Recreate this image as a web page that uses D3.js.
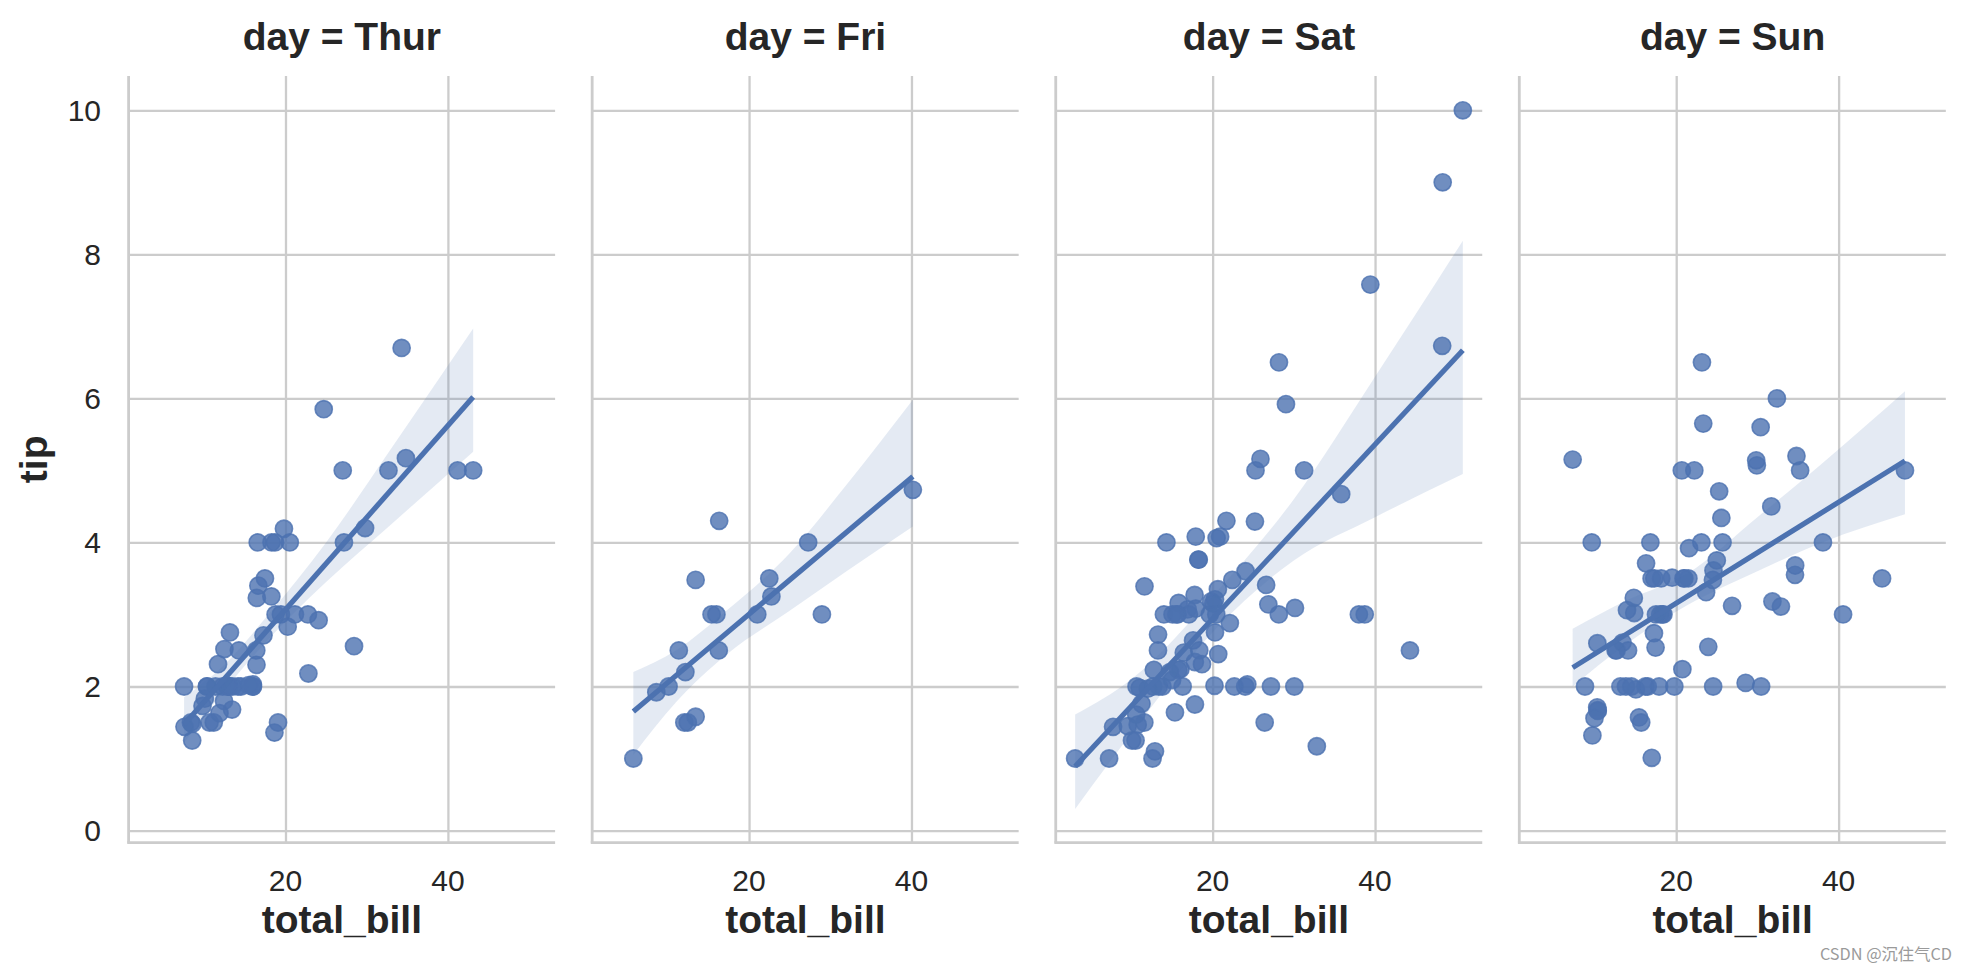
<!DOCTYPE html>
<html>
<head>
<meta charset="utf-8">
<script src="https://cdn.jsdelivr.net/npm/d3@7"></script>
<style>
html,body{margin:0;padding:0;background:#fff;}
svg{display:block;}
</style>
</head>
<body>
<svg id="chart" width="1966" height="964"></svg>
<script>
// ---- data (seaborn "tips", split by day) ----
const days = ["Thur", "Fri", "Sat", "Sun"];
const thurBill = [27.20,22.76,17.29,19.44,16.66,10.07,32.68,15.98,34.83,13.03,18.28,24.71,21.16,10.65,12.43,24.08,11.69,13.42,14.26,15.95,12.48,29.80,8.52,14.52,11.38,22.82,19.08,20.27,11.17,12.26,18.26,8.51,10.33,14.15,16.00,13.16,17.47,34.30,41.19,27.05,16.43,8.35,18.64,11.87,9.78,7.51,19.81,28.44,15.48,16.58,7.56,10.34,43.11,13.00,13.51,18.71,12.74,13.00,16.40,20.53,16.47,18.78];
const thurTip  = [4.00,3.00,2.71,3.00,3.40,1.83,5.00,2.03,5.17,2.00,4.00,5.85,3.00,1.50,1.80,2.92,2.31,1.68,2.50,2.00,2.52,4.20,1.48,2.00,2.00,2.18,1.50,2.83,1.50,2.00,3.25,1.25,2.00,2.00,2.00,2.75,3.50,6.70,5.00,5.00,2.30,1.50,1.36,1.63,1.73,2.00,4.19,2.56,2.02,4.00,1.44,2.00,5.00,2.00,2.00,4.00,2.01,2.00,2.50,4.00,3.23,3.00];
const friBill = [28.97,22.49,5.75,16.32,22.75,40.17,27.28,12.03,21.01,12.46,11.35,15.38,12.16,13.42,8.58,15.98,13.42,16.27,10.09];
const friTip  = [3.00,3.50,1.00,4.30,3.25,4.73,4.00,1.50,3.00,1.50,2.50,3.00,2.20,3.48,1.92,3.00,1.58,2.50,2.00];
const satBill = [20.65,17.92,20.29,15.77,39.42,19.82,17.81,13.37,12.69,21.70,19.65,9.55,18.35,15.06,20.69,17.78,24.06,16.31,16.93,18.69,31.27,16.04,
  38.01,26.41,11.24,48.27,20.29,13.81,11.02,18.29,17.59,20.08,16.45,3.07,20.23,15.01,12.02,17.07,26.86,25.28,14.73,10.51,17.92,
  44.30,22.42,20.92,15.36,20.49,25.21,18.24,14.31,14.00,7.25,10.59,10.63,50.81,15.81,
  26.59,38.73,24.27,12.76,30.06,25.89,48.33,13.27,28.17,12.90,28.15,11.59,7.74,30.14,
  20.45,13.28,22.12,24.01,15.69,11.61,10.77,15.53,10.07,12.60,32.83,35.83,29.03,27.18,22.67,17.82];
const satTip  = [3.35,4.08,2.75,2.23,7.58,3.18,2.34,2.00,2.00,4.30,3.00,1.45,2.50,3.00,2.45,3.27,3.60,2.00,3.07,2.31,5.00,2.24,
  3.00,1.50,1.76,6.73,3.21,2.00,1.98,3.76,2.64,3.15,2.47,1.00,2.01,2.09,1.97,3.00,3.14,5.00,2.20,1.25,3.08,
  2.50,3.48,4.08,1.64,4.06,4.29,3.76,4.00,3.00,1.00,1.61,2.00,10.00,3.16,
  3.41,3.00,2.03,2.23,2.00,5.16,9.00,2.50,6.50,1.10,3.00,1.50,1.44,3.09,
  3.00,2.72,2.88,2.00,3.00,3.39,1.47,3.00,1.25,1.00,1.17,4.67,5.92,2.00,2.00,1.75];
const sunBill = [16.99,10.34,21.01,23.68,24.59,25.29,8.77,26.88,15.04,14.78,10.27,35.26,15.42,18.43,14.83,21.58,10.33,16.29,16.97,
  17.46,13.94,9.68,30.40,18.29,22.23,32.40,28.55,18.04,12.54,10.29,34.81,9.94,25.56,19.49,
  38.07,23.95,25.71,17.31,29.93,
  14.07,13.13,17.26,24.55,19.77,29.85,48.17,25.00,13.39,16.49,21.50,12.66,16.21,13.81,17.51,24.52,20.76,31.71,
  7.25,31.85,16.82,32.90,17.89,14.48,9.60,34.63,34.65,23.33,45.35,23.17,40.55,20.69,20.90,30.46,18.15,23.10,15.69];
const sunTip  = [1.01,1.66,3.50,3.31,3.61,4.71,2.00,3.12,1.96,3.23,1.71,5.00,1.57,3.00,3.02,3.92,1.67,3.71,3.50,
  2.54,3.06,1.32,5.60,3.00,5.00,6.00,2.05,3.00,2.50,2.60,5.20,1.56,4.34,3.51,
  4.00,2.55,4.00,3.50,5.07,
  2.50,2.00,2.74,2.00,2.00,5.14,5.00,3.75,2.61,2.00,3.50,2.50,2.00,2.00,3.00,3.48,2.24,4.50,
  5.15,3.18,4.00,3.11,2.00,2.00,4.00,3.55,3.68,5.65,3.50,6.50,3.00,5.00,3.50,2.00,3.50,4.00,1.50];

// 95% confidence band edges at a few x positions
const thurBandX  = [7.51, 12, 17.7, 25, 33, 43.11];
const thurBandLo = [1.22, 1.88, 2.63, 3.45, 4.25, 5.26];
const thurBandHi = [1.85, 2.25, 2.97, 4.00, 5.30, 6.97];
const friBandX   = [5.75, 11, 17.2, 25, 32, 40.17];
const friBandLo  = [1.05, 1.78, 2.44, 3.05, 3.60, 4.22];
const friBandHi  = [2.20, 2.50, 3.05, 3.85, 4.80, 5.98];
const satBandX   = [3.07, 10, 20.4, 30, 40, 50.81];
const satBandLo  = [0.30, 1.35, 2.80, 3.75, 4.35, 4.95];
const satBandHi  = [1.61, 2.10, 3.30, 4.60, 6.30, 8.19];
const sunBandX   = [7.25, 14, 21.4, 30, 38, 48.17];
const sunBandLo  = [2.00, 2.60, 3.13, 3.60, 4.00, 4.39];
const sunBandHi  = [2.80, 3.20, 3.57, 4.35, 5.10, 6.10];

const xTicks = [20, 40];
const yTicks = [0, 2, 4, 6, 8, 10];
const xLabel = "total_bill";
const yLabel = "tip";

// ---- assemble ----
const panels = [
  {day: days[0], bill: thurBill, tip: thurTip, bx: thurBandX, lo: thurBandLo, hi: thurBandHi},
  {day: days[1], bill: friBill,  tip: friTip,  bx: friBandX,  lo: friBandLo,  hi: friBandHi},
  {day: days[2], bill: satBill,  tip: satTip,  bx: satBandX,  lo: satBandLo,  hi: satBandHi},
  {day: days[3], bill: sunBill,  tip: sunTip,  bx: sunBandX,  lo: sunBandLo,  hi: sunBandHi}
];

const C = "#4c72b0", GRID = "#cccccc", TXT = "#262626";
const FONT = "'Liberation Sans', Arial, sans-serif";
const panelLeft0 = 128.6, panelStep = 463.57, panelW = 426.5;
const topY = 76, bottomY = 842.7;

const svg = d3.select("#chart");
const y = d3.scaleLinear().domain([-0.169, 10.476]).range([bottomY, topY]);

panels.forEach((p, i) => {
  const left = panelLeft0 + i * panelStep;
  const x = d3.scaleLinear().domain([0.68, 53.2]).range([left, left + panelW]);
  const g = svg.append("g");

  // grid
  const xAxis = d3.axisBottom(x).tickValues(xTicks).tickSize(-(bottomY - topY)).tickFormat("");
  const gx = g.append("g").attr("transform", `translate(0,${bottomY})`).call(xAxis);
  gx.select(".domain").remove();
  gx.selectAll("line").attr("stroke", GRID).attr("stroke-width", 2.3);
  const yAxis = d3.axisLeft(y).tickValues(yTicks).tickSize(-panelW).tickFormat("");
  const gy = g.append("g").attr("transform", `translate(${left},0)`).call(yAxis);
  gy.select(".domain").remove();
  gy.selectAll("line").attr("stroke", GRID).attr("stroke-width", 2.3);

  // spines
  g.append("line").attr("x1", left).attr("x2", left).attr("y1", topY).attr("y2", bottomY)
    .attr("stroke", GRID).attr("stroke-width", 2.8);
  g.append("line").attr("x1", left - 1.4).attr("x2", left + panelW).attr("y1", bottomY).attr("y2", bottomY)
    .attr("stroke", GRID).attr("stroke-width", 2.8);

  // tick labels
  g.selectAll(".xt").data(xTicks).enter().append("text")
    .attr("x", d => x(d)).attr("y", 890.5).attr("text-anchor", "middle")
    .attr("font-family", FONT).attr("font-size", 30).attr("fill", TXT).text(d => d);
  if (i === 0) {
    g.selectAll(".yt").data(yTicks).enter().append("text")
      .attr("x", 101).attr("y", d => y(d) + 10.7).attr("text-anchor", "end")
      .attr("font-family", FONT).attr("font-size", 30).attr("fill", TXT).text(d => d);
    g.append("text").attr("transform", `translate(47,${(topY + bottomY) / 2}) rotate(-90)`)
      .attr("text-anchor", "middle").attr("font-family", FONT).attr("font-size", 39)
      .attr("font-weight", "bold").attr("fill", TXT).text(yLabel);
  }

  // axis label + title
  g.append("text").attr("x", left + panelW / 2).attr("y", 933).attr("text-anchor", "middle")
    .attr("font-family", FONT).attr("font-size", 39).attr("font-weight", "bold").attr("fill", TXT).text(xLabel);
  g.append("text").attr("x", left + panelW / 2).attr("y", 49.5).attr("text-anchor", "middle")
    .attr("font-family", FONT).attr("font-size", 39).attr("font-weight", "bold").attr("fill", TXT).text("day = " + p.day);

  // scatter
  const pts = p.bill.map((b, k) => [b, p.tip[k]]);
  g.selectAll(".pt").data(pts).enter().append("circle")
    .attr("cx", d => x(d[0])).attr("cy", d => y(d[1])).attr("r", 8.6)
    .attr("fill", C).attr("fill-opacity", 0.8)
    .attr("stroke", C).attr("stroke-opacity", 0.8).attr("stroke-width", 1.6);

  // confidence band
  const band = p.bx.map((bx, k) => ({x: bx, lo: p.lo[k], hi: p.hi[k]}));
  g.append("path").datum(band)
    .attr("d", d3.area().x(d => x(d.x)).y0(d => y(d.lo)).y1(d => y(d.hi)).curve(d3.curveMonotoneX))
    .attr("fill", C).attr("fill-opacity", 0.15);

  // regression line (least squares on the day's points)
  const mx = d3.mean(p.bill), my = d3.mean(p.tip);
  let sxy = 0, sxx = 0;
  p.bill.forEach((b, k) => { sxy += (b - mx) * (p.tip[k] - my); sxx += (b - mx) * (b - mx); });
  const slope = sxy / sxx, icpt = my - slope * mx;
  const ext = d3.extent(p.bill);
  g.append("path").datum(ext.map(v => [v, icpt + slope * v]))
    .attr("d", d3.line().x(d => x(d[0])).y(d => y(d[1])))
    .attr("stroke", C).attr("stroke-width", 5.2).attr("fill", "none").attr("stroke-linecap", "butt");
});

// watermark
svg.append("text").attr("x", 1952).attr("y", 959.5).attr("text-anchor", "end")
  .attr("font-family", "'Noto Sans CJK SC', sans-serif").attr("font-size", 16.3)
  .attr("fill", "#9a9a9a").text("CSDN @沉住气CD");
</script>
</body>
</html>
